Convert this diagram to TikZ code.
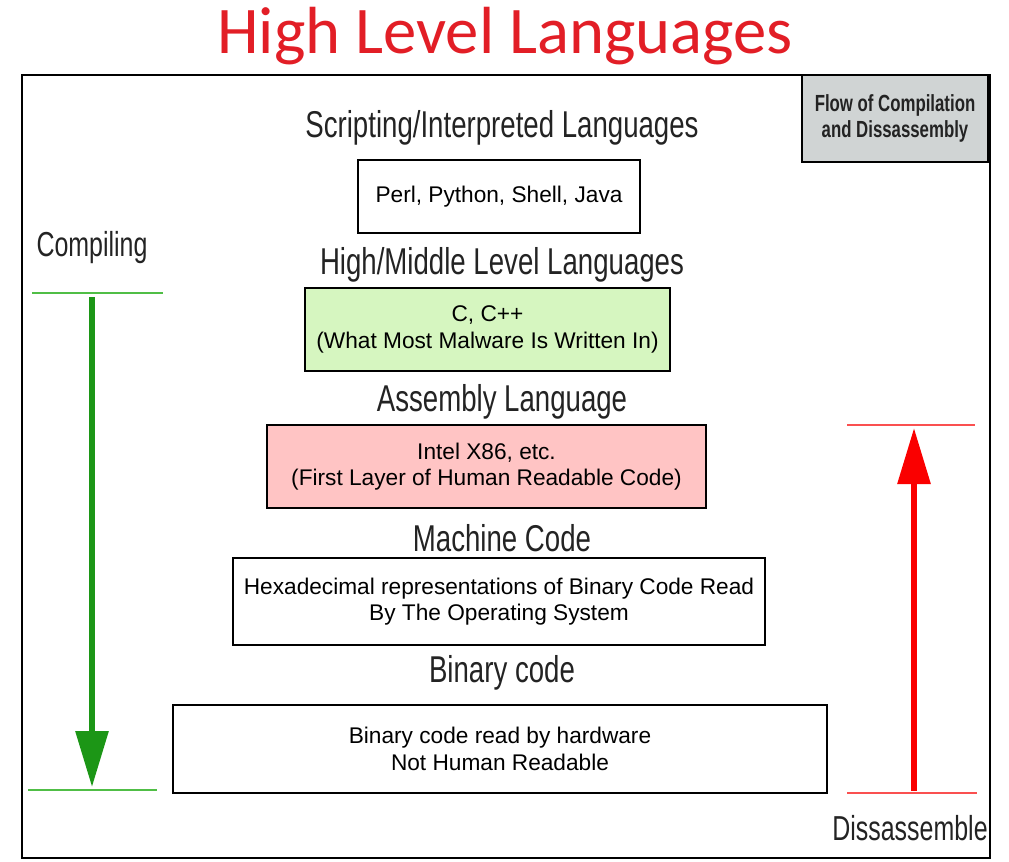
\documentclass[tikz,border=0pt]{standalone}
\usepackage{fontspec}
\setmainfont{Liberation Sans}
\newfontfamily\headfont[FakeStretch=0.72]{Liberation Sans}
\newfontfamily\layerfont[FakeStretch=0.74]{Liberation Sans}
\newfontfamily\titlefont{Carlito}
\usetikzlibrary{arrows.meta}

\definecolor{titlered}{RGB}{226,30,38}
\definecolor{headgray}{RGB}{35,35,35}
\definecolor{notegray}{RGB}{208,212,212}
\definecolor{cgreen}{RGB}{214,246,192}
\definecolor{asmpink}{RGB}{255,196,196}
\definecolor{arrgreen}{RGB}{28,150,22}
\definecolor{linegreen}{RGB}{80,190,70}
\definecolor{arrred}{RGB}{250,0,0}
\definecolor{linered}{RGB}{250,80,80}

\begin{document}
\begin{tikzpicture}[x=0.75pt,y=0.75pt,yscale=-1,xscale=1,
  layerbox/.style={draw=black,line width=2.2pt,align=center,inner sep=0pt,
    font=\fontsize{17}{20}\selectfont},
  layerhead/.style={text=headgray,inner sep=0pt,font=\layerfont\fontsize{28}{32}\selectfont},
  sidelabel/.style={text=headgray,inner sep=0pt,font=\headfont\fontsize{26}{30}\selectfont},
  greenline/.style={draw=linegreen,line width=1.6pt},
  redline/.style={draw=linered,line width=1.6pt},
  flowarrow/.style={line width=4.5pt,-{Triangle[length=42pt,width=24pt]}}]
\useasboundingbox (0,0) rectangle (1009,861);

% Title
\node (title) at (505,36) [text=titlered,font=\titlefont\fontsize{50}{54}\selectfont] {High Level Languages};

% Frame
\draw[line width=2.2pt] (22,75) rectangle (990,858);

% Note box
\node (note) at (895,118.5) [draw=black,fill=notegray,line width=2.2pt,minimum width=186*0.75pt,
  minimum height=87*0.75pt,align=center,inner sep=0pt,
  font=\headfont\bfseries\fontsize{17.5}{20}\selectfont,text=headgray] {Flow of Compilation\\and Dissassembly};

% Layers
\node (hscript) at (502,128) [layerhead] {Scripting/Interpreted Languages};
\node (script) at (499,196.5) [layerbox,minimum width=282*0.75pt,minimum height=73*0.75pt] {Perl, Python, Shell, Java};

\node (hhigh) at (502,265) [layerhead] {High/Middle Level Languages};
\node (high) at (487.5,329.5) [layerbox,fill=cgreen,minimum width=365*0.75pt,minimum height=83*0.75pt] {C, C++\\(What Most Malware Is Written In)};

\node (hasm) at (502,402) [layerhead] {Assembly Language};
\node (asm) at (486.5,466.5) [layerbox,fill=asmpink,minimum width=439*0.75pt,minimum height=83*0.75pt] {Intel X86, etc.\\(First Layer of Human Readable Code)};

\node (hmach) at (502,538) [layerhead] {Machine Code};
\node (mach) at (499,601.5) [layerbox,minimum width=532*0.75pt,minimum height=87*0.75pt] {Hexadecimal representations of Binary Code Read\\By The Operating System};

\node (hbin) at (502,673) [layerhead] {Binary code};
\node (bin) at (500,749) [layerbox,minimum width=654*0.75pt,minimum height=88*0.75pt] {Binary code read by hardware\\Not Human Readable};

% Compiling
\node (compiling) at (92,248) [sidelabel] {Compiling};
\coordinate (gtopl) at (32,293);
\coordinate (gtopr) at (163,293);
\coordinate (gbotl) at (28,790);
\coordinate (gbotr) at (157,790);
\coordinate (gstart) at (92,297);
\coordinate (gend) at (92,787);
\draw[greenline] (gtopl) -- (gtopr);
\draw[greenline] (gbotl) -- (gbotr);
\draw[flowarrow,draw=arrgreen,fill=arrgreen] (gstart) -- (gend);

% Dissassemble
\node (dissasm) at (910,828) [sidelabel] {Dissassemble};
\coordinate (rtopl) at (847,425);
\coordinate (rtopr) at (975,425);
\coordinate (rbotl) at (847,793);
\coordinate (rbotr) at (977,793);
\coordinate (rstart) at (914,791);
\coordinate (rend) at (914,428);
\draw[redline] (rtopl) -- (rtopr);
\draw[redline] (rbotl) -- (rbotr);
\draw[flowarrow,draw=arrred,fill=arrred] (rstart) -- (rend);

\end{tikzpicture}
\end{document}
